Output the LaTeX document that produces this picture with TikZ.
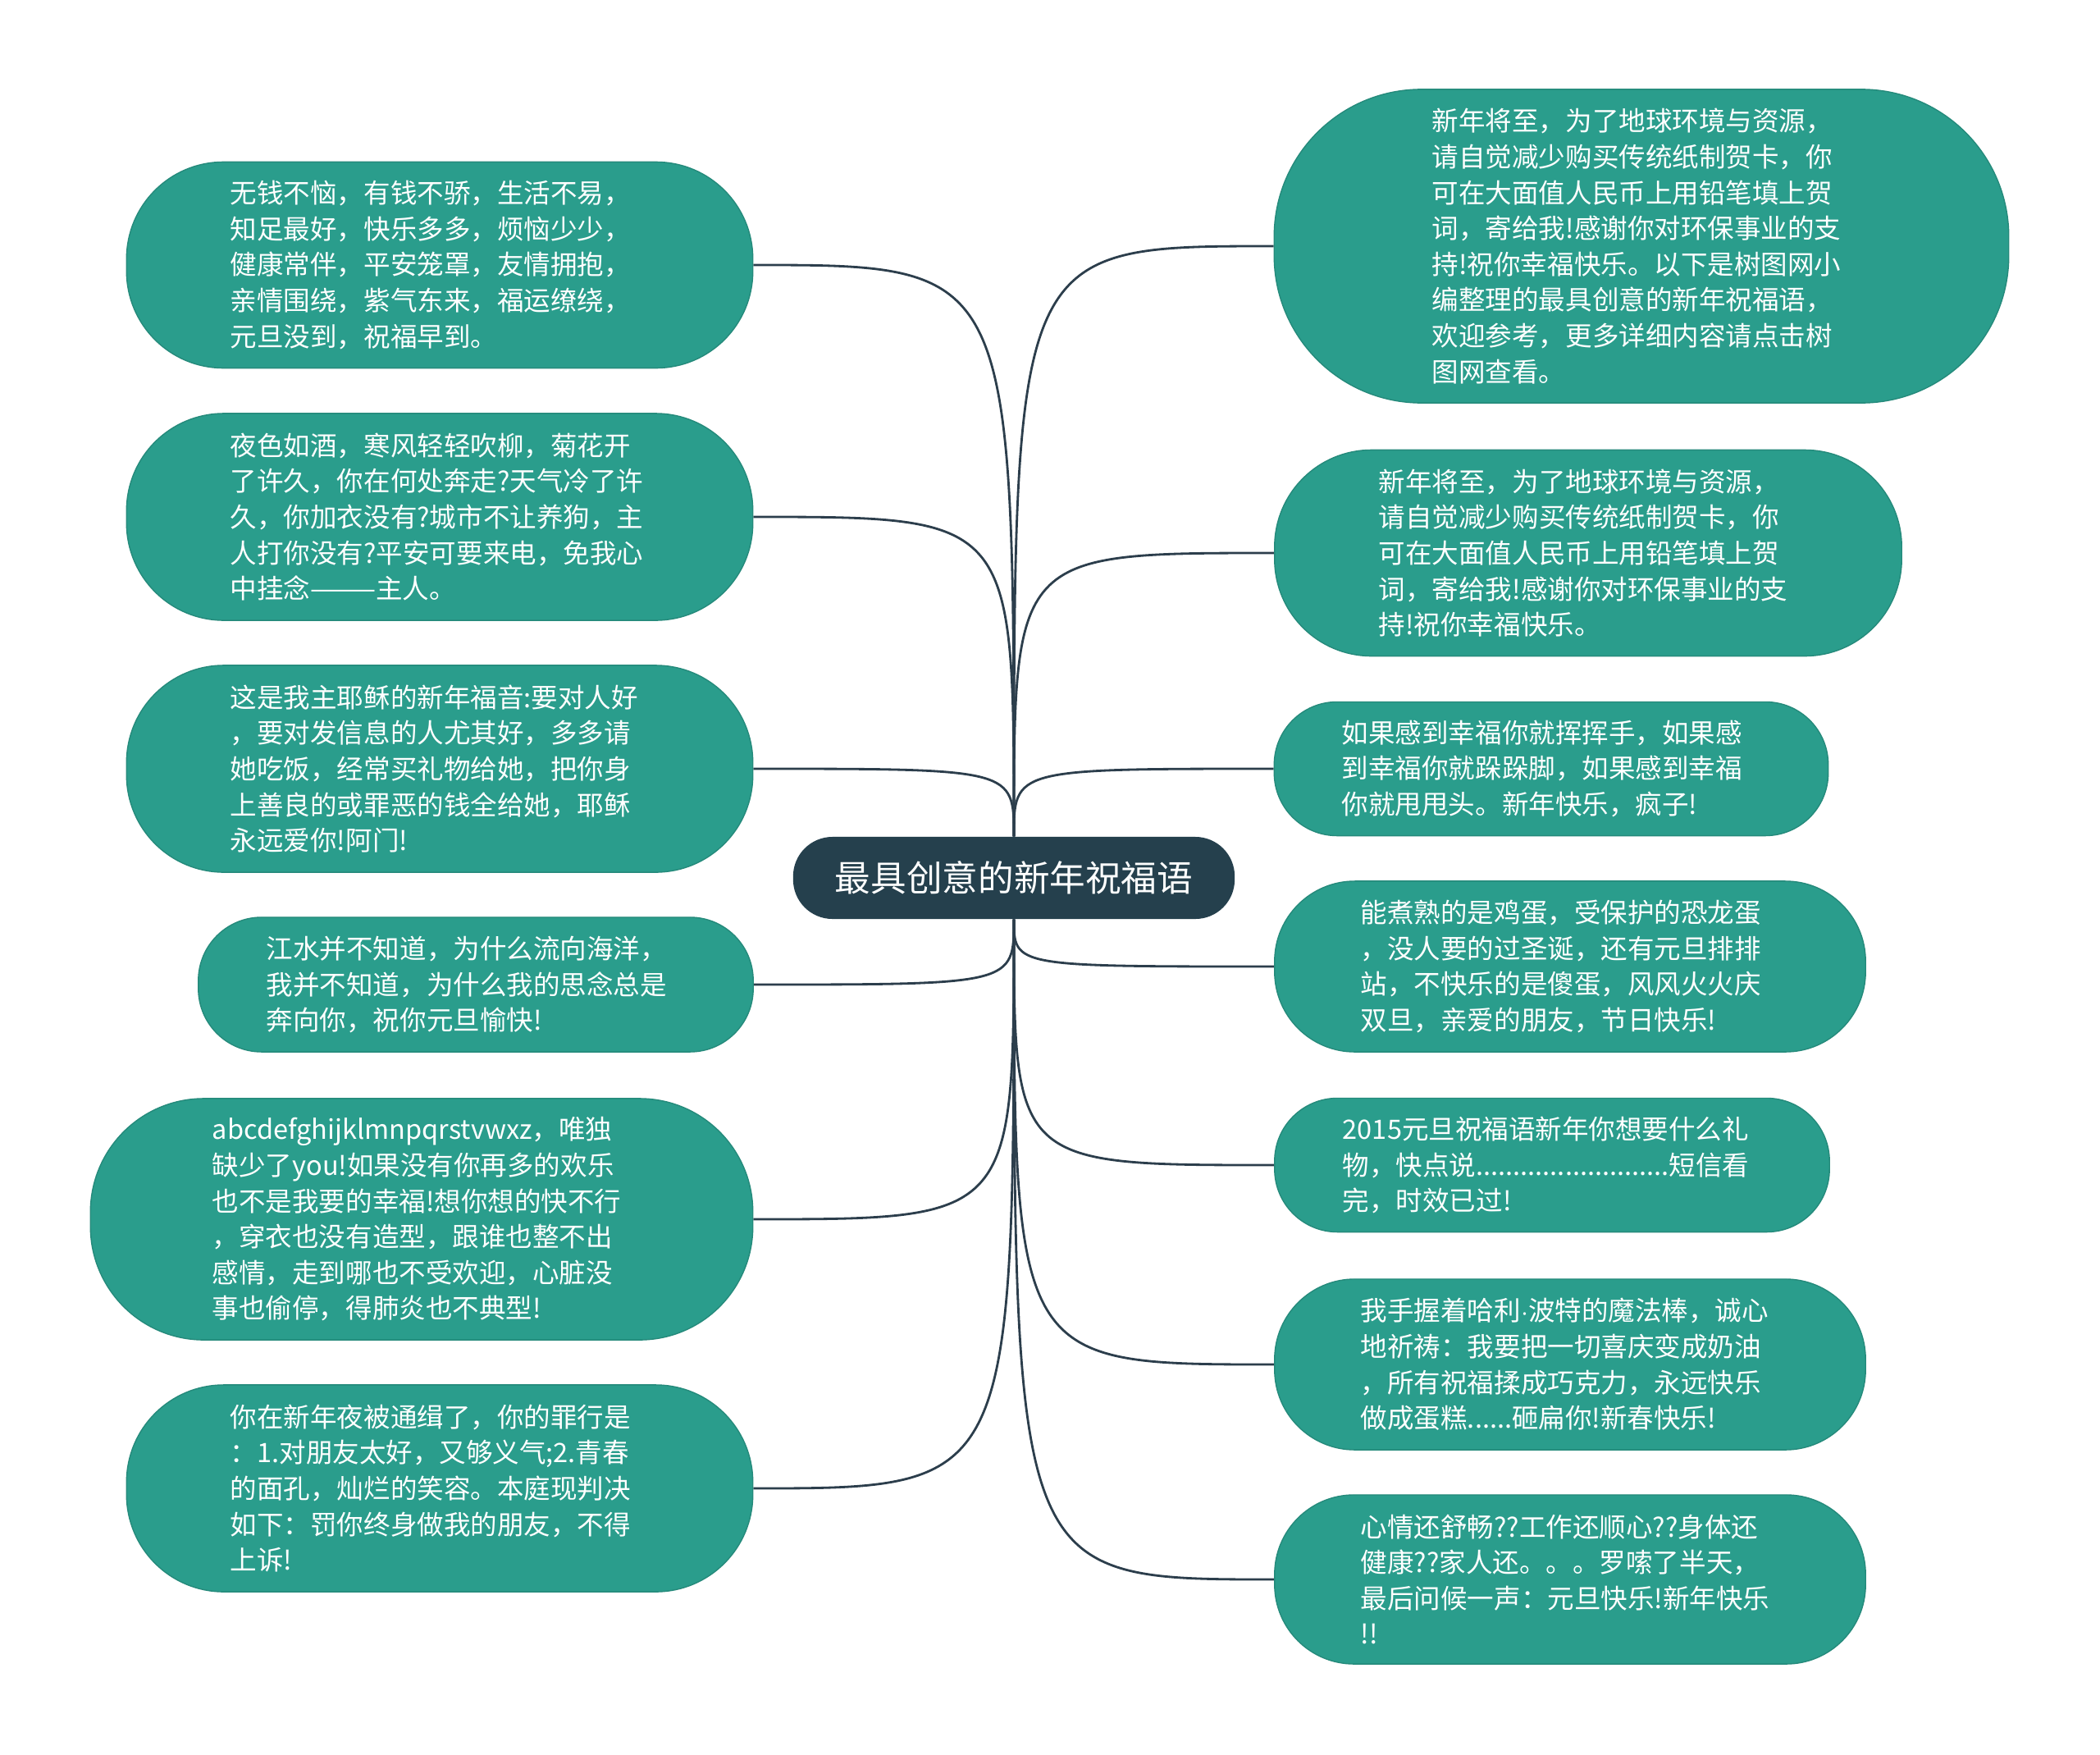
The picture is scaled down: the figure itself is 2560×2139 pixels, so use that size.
\documentclass[tikz,border=0pt]{standalone}
\usepackage{fontspec}
\newfontfamily\cjk{Noto Sans CJK SC}
\usetikzlibrary{positioning,backgrounds}
\definecolor{leafteal}{HTML}{2A9D8C}
\definecolor{rootslate}{HTML}{25404D}
\definecolor{linkslate}{HTML}{2C3E4C}

\begin{document}
\begin{tikzpicture}
                    [x=0.01cm,y=-0.01cm,
                     leaf/.style 2 args={fill=leafteal,draw=leafteal!88!black,line width=0.4pt,text=white,align=left,
                        text width=5.1cm,minimum width=#1,minimum height=#2,rounded corners=0.47*#2,inner sep=0pt,
                        font=\cjk\fontsize{9.25}{12.4}\selectfont},
                     root/.style={fill=rootslate,text=white,minimum width=5.38cm,minimum height=1cm,
                        rounded corners=0.48cm,font=\cjk\fontsize{12.4}{14}\selectfont},
                     link/.style={draw=linkslate,line width=0.8pt}]

                \useasboundingbox (0,0) rectangle (2560,2139);

                \node[root] (ctr) at (1236,1070) {最具创意的新年祝福语};

                % left side
                \node[leaf={7.63cm}{2.51cm}] (l1) at (536,323) {无钱不恼，有钱不骄，生活不易，\\知足最好，快乐多多，烦恼少少，\\健康常伴，平安笼罩，友情拥抱，\\亲情围绕，紫气东来，福运缭绕，\\元旦没到，祝福早到。};
                \node[leaf={7.63cm}{2.52cm}] (l2) at (536,630) {夜色如酒，寒风轻轻吹柳，菊花开\\了许久，你在何处奔走?天气冷了许\\久，你加衣没有?城市不让养狗，主\\人打你没有?平安可要来电，免我心\\中挂念———主人。};
                \node[leaf={7.63cm}{2.52cm}] (l3) at (536,937) {这是我主耶稣的新年福音:要对人好\\，要对发信息的人尤其好，多多请\\她吃饭，经常买礼物给她，把你身\\上善良的或罪恶的钱全给她，耶稣\\永远爱你!阿门!};
                \node[leaf={6.76cm}{1.64cm}] (l4) at (580,1200) {江水并不知道，为什么流向海洋，\\我并不知道，为什么我的思念总是\\奔向你，祝你元旦愉快!};
                \node[leaf={8.07cm}{2.94cm}] (l5) at (514,1486) {abcdefghijklmnpqrstvwxz，唯独\\缺少了you!如果没有你再多的欢乐\\也不是我要的幸福!想你想的快不行\\，穿衣也没有造型，跟谁也整不出\\感情，走到哪也不受欢迎，心脏没\\事也偷停，得肺炎也不典型!};
                \node[leaf={7.63cm}{2.52cm}] (l6) at (536,1814) {你在新年夜被通缉了，你的罪行是\\：1.对朋友太好，又够义气;2.青春\\的面孔，灿烂的笑容。本庭现判决\\如下：罚你终身做我的朋友，不得\\上诉!};

                % right side
                \node[leaf={8.95cm}{3.82cm}] (r1) at (2001,300) {新年将至，为了地球环境与资源，\\请自觉减少购买传统纸制贺卡，你\\可在大面值人民币上用铅笔填上贺\\词，寄给我!感谢你对环保事业的支\\持!祝你幸福快乐。以下是树图网小\\编整理的最具创意的新年祝福语，\\欢迎参考，更多详细内容请点击树\\图网查看。};
                \node[leaf={7.64cm}{2.51cm}] (r2) at (1936,674) {新年将至，为了地球环境与资源，\\请自觉减少购买传统纸制贺卡，你\\可在大面值人民币上用铅笔填上贺\\词，寄给我!感谢你对环保事业的支\\持!祝你幸福快乐。};
                \node[leaf={6.75cm}{1.63cm}] (r3) at (1891,937) {如果感到幸福你就挥挥手，如果感\\到幸福你就跺跺脚，如果感到幸福\\你就甩甩头。新年快乐，疯子!};
                \node[leaf={7.20cm}{2.08cm}] (r4) at (1914,1178) {能煮熟的是鸡蛋，受保护的恐龙蛋\\，没人要的过圣诞，还有元旦排排\\站，不快乐的是傻蛋，风风火火庆\\双旦，亲爱的朋友，节日快乐!};
                \node[leaf={6.76cm}{1.63cm}] (r5) at (1892,1420) {2015元旦祝福语新年你想要什么礼\\物，快点说..........................短信看\\完，时效已过!};
                \node[leaf={7.20cm}{2.08cm}] (r6) at (1914,1663) {我手握着哈利$\cdot$波特的魔法棒，诚心\\地祈祷：我要把一切喜庆变成奶油\\，所有祝福揉成巧克力，永远快乐\\做成蛋糕......砸扁你!新春快乐!};
                \node[leaf={7.20cm}{2.06cm}] (r7) at (1914,1925) {心情还舒畅??工作还顺心??身体还\\健康??家人还。。。罗嗦了半天，\\最后问候一声：元旦快乐!新年快乐\\!!};

                \begin{scope}[on background layer]
                    \fill[white] (0,0) rectangle (2560,2139);
                    \foreach \n in {l1,l2,l3}
                        \draw[link] (ctr.north) .. controls (ctr.north |- \n.east) .. (\n.east);
                    \foreach \n in {r1,r2,r3}
                        \draw[link] (ctr.north) .. controls (ctr.north |- \n.west) .. (\n.west);
                    \foreach \n in {l4,l5,l6}
                        \draw[link] (ctr.south) .. controls (ctr.south |- \n.east) .. (\n.east);
                    \foreach \n in {r4,r5,r6,r7}
                        \draw[link] (ctr.south) .. controls (ctr.south |- \n.west) .. (\n.west);
                \end{scope}

                \end{tikzpicture}
\end{document}
